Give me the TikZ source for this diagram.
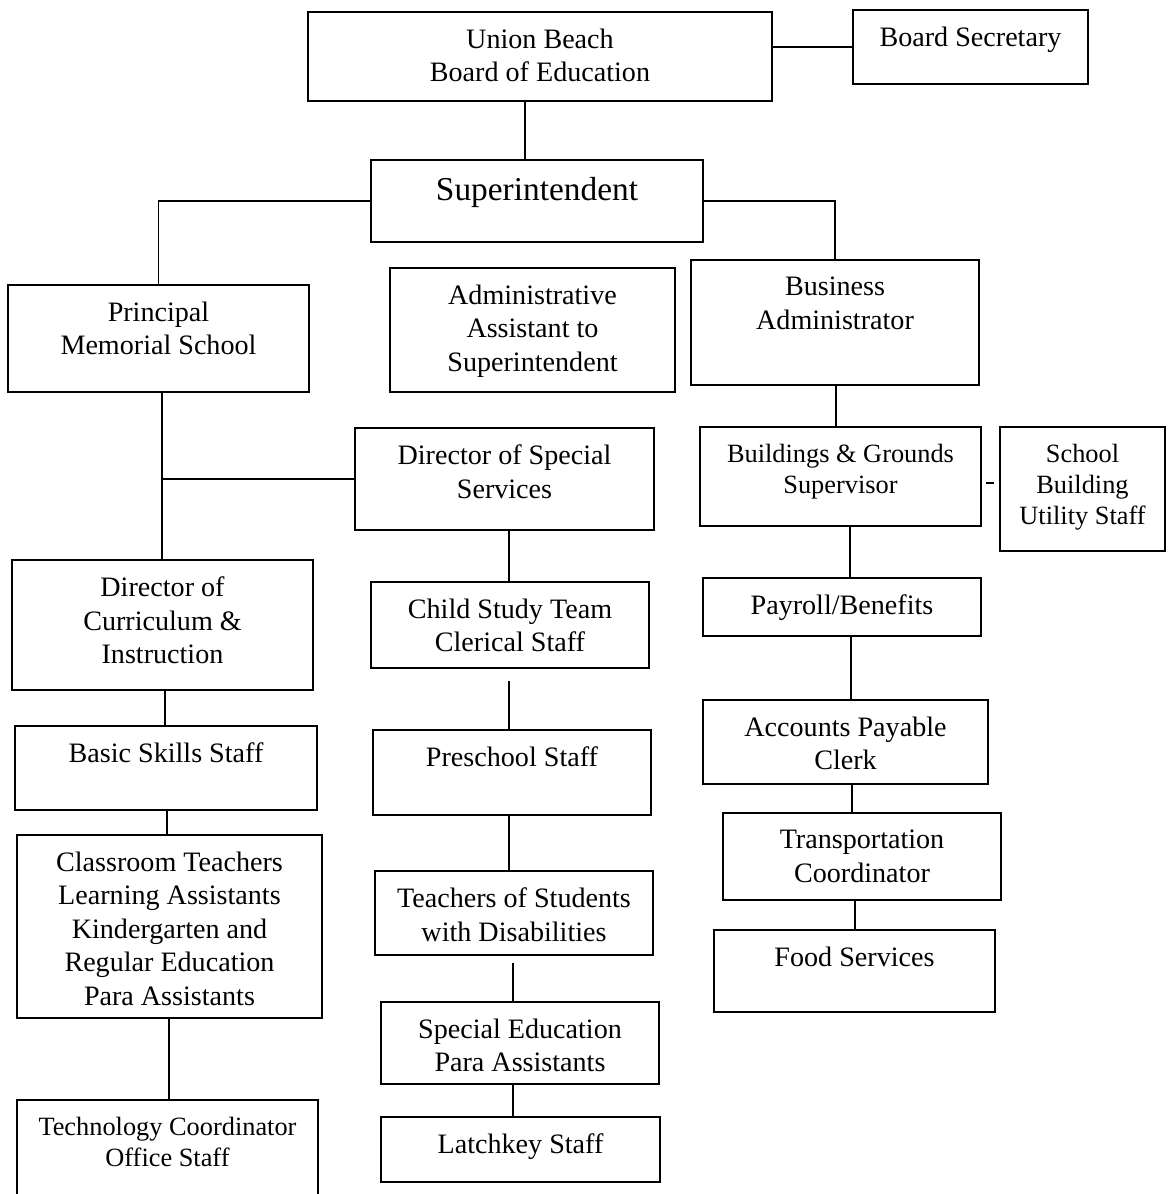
\documentclass[tikz,border=0pt]{standalone}
\usepackage{fontspec}
\setmainfont{Liberation Serif}
\usetikzlibrary{fit}

% caja del organigrama: nombre, esquinas, texto arriba
\newcommand{\orgbox}[4][]{%
  \node[box, fit={#3}] (#2) {};
  \node[txt, #1] (#2-txt) at ([yshift=-10pt]#2.north) {#4};}

\begin{document}
\begin{tikzpicture}[x=0.02cm, y=-0.02cm,
    box/.style={draw, line width=1pt, inner sep=0pt},
    txt/.style={align=center, anchor=north, inner sep=0pt, font=\fontsize{16}{19}\selectfont},
    small/.style={font=\fontsize{15}{17.7}\selectfont},
    link/.style={line width=0.9pt}]
    \useasboundingbox (0,0) rectangle (1167,1194);

    % Consejo y superintendente
    \orgbox{ub}{(308,12) (772,101)}{Union Beach\\Board of Education}
    \orgbox{bsec}{(853,10) (1088,84)}{Board Secretary}
    \orgbox[font=\fontsize{19}{22}\selectfont]{sup}{(371,160) (703,242)}{Superintendent}

    % Segundo nivel
    \orgbox{pr}{(8,285) (309,392)}{Principal\\Memorial School}
    \orgbox{aa}{(390,268) (675,392)}{Administrative\\Assistant to\\Superintendent}
    \orgbox{ba}{(691,260) (979,385)}{Business\\Administrator}

    % Columna izquierda
    \orgbox{dc}{(12,560) (313,690)}{Director of\\Curriculum \&\\Instruction}
    \orgbox{bsk}{(15,726) (317,810)}{Basic Skills Staff}
    \orgbox{ct}{(17,835) (322,1018)}{Classroom Teachers\\Learning Assistants\\Kindergarten and\\Regular Education\\Para Assistants}
    \orgbox[small]{tc}{(17,1100) (318,1205)}{Technology Coordinator\\Office Staff}

    % Columna central
    \orgbox{dss}{(355,428) (654,530)}{Director of Special\\Services}
    \orgbox{cst}{(371,582) (649,668)}{Child Study Team\\Clerical Staff}
    \orgbox{ps}{(373,730) (651,815)}{Preschool Staff}
    \orgbox{tsd}{(375,871) (653,955)}{Teachers of Students\\with Disabilities}
    \orgbox{sped}{(381,1002) (659,1084)}{Special Education\\Para Assistants}
    \orgbox{lk}{(381,1117) (660,1182)}{Latchkey Staff}

    % Columna derecha
    \orgbox[small]{bg}{(700,427) (981,526)}{Buildings \& Grounds\\Supervisor}
    \orgbox[small]{us}{(1000,427) (1165,551)}{School\\Building\\Utility Staff}
    \orgbox{pb}{(703,578) (981,636)}{Payroll/Benefits}
    \orgbox{ap}{(703,700) (988,784)}{Accounts Payable\\Clerk}
    \orgbox{tr}{(723,813) (1001,900)}{Transportation\\Coordinator}
    \orgbox{fs}{(714,930) (995,1012)}{Food Services}

    % Conectores
    \draw[link] (bsec.west) -- (bsec.west -| ub.east);
    \draw[link] (ub.south -| 525,0) -- (sup.north -| 525,0);
    \draw[link] (sup.west) -| (pr.north);
    \draw[link] (sup.east) -| (ba.north);

    \draw[link] (pr.south -| 162,0) -- (dc.north -| 162,0);
    \draw[link] (dss.west) -- (dss.west -| 162,0);
    \draw[link] (dc.south -| 165,0) -- (bsk.north -| 165,0);
    \draw[link] (bsk.south -| 167,0) -- (ct.north -| 167,0);
    \draw[link] (ct.south -| 169,0) -- (tc.north -| 169,0);

    \draw[link] (dss.south -| 509,0) -- (cst.north -| 509,0);
    \draw[link, shorten <=0.24cm] (cst.south -| 509,0) -- (ps.north -| 509,0);
    \draw[link] (ps.south -| 509,0) -- (tsd.north -| 509,0);
    \draw[link, shorten <=0.14cm] (tsd.south -| 513,0) -- (sped.north -| 513,0);
    \draw[link] (sped.south -| 513,0) -- (lk.north -| 513,0);

    \draw[link] (ba.south -| 836,0) -- (bg.north -| 836,0);
    \draw[link, shorten <=0.08cm, shorten >=0.1cm] (bg.east |- 0,483) -- (us.west |- 0,483);
    \draw[link] (bg.south -| 850,0) -- (pb.north -| 850,0);
    \draw[link] (pb.south -| 851,0) -- (ap.north -| 851,0);
    \draw[link] (ap.south -| 852,0) -- (tr.north -| 852,0);
    \draw[link] (tr.south -| 855,0) -- (fs.north -| 855,0);
\end{tikzpicture}
\end{document}
